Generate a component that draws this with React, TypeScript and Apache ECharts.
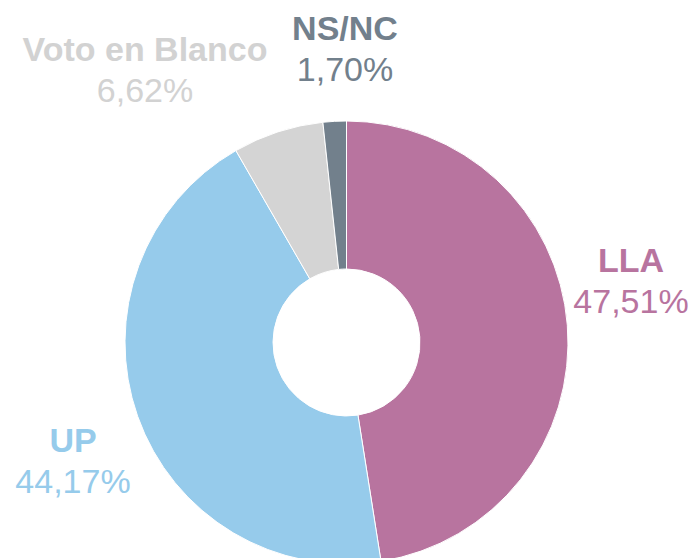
import React, { useEffect, useRef } from "react";
import * as echarts from "echarts";

const categories = ["LLA", "UP", "Voto en Blanco", "NS/NC"];
const values = [47.51, 44.17, 6.62, 1.7];
const colors = ["#b8749f", "#96cbeb", "#d4d4d4", "#72808c"];
const labelColors = ["#b8749f", "#96cbeb", "#d2d2d2", "#72808c"];
const labelPos: [number, number][] = [
  [631, 280],
  [73, 460],
  [145, 69],
  [345, 48],
];

export default function App() {
  const ref = useRef<HTMLDivElement>(null);
  useEffect(() => {
    if (!ref.current) return;
    const chart = echarts.init(ref.current, null, { renderer: "svg" });
    const font = "'Liberation Sans', Arial, sans-serif";
    chart.setOption({
      animation: false,
      backgroundColor: "#ffffff",
      series: [
        {
          type: "pie",
          center: [346.5, 342.5],
          radius: [73.5, 221.5],
          startAngle: 90,
          clockwise: true,
          avoidLabelOverlap: false,
          itemStyle: { borderColor: "#ffffff", borderWidth: 1 },
          labelLine: { show: false },
          label: {
            show: true,
            position: "outside",
            overflow: "none",
            fontFamily: font,
            formatter: (p: any) =>
              `{n|${p.name}}\n{v|${Number(p.value).toFixed(2).replace(".", ",")}%}`,
          },
          labelLayout: (p: any) => ({
            x: labelPos[p.dataIndex][0],
            y: labelPos[p.dataIndex][1],
            align: "center",
            verticalAlign: "middle",
          }),
          data: categories.map((c, i) => ({
            name: c,
            value: values[i],
            itemStyle: { color: colors[i] },
            label: {
              overflow: "none",
              rich: {
                n: {
                  fontSize: 34,
                  fontWeight: "bold",
                  color: labelColors[i],
                  lineHeight: 41,
                  fontFamily: font,
                },
                v: {
                  fontSize: 34,
                  color: labelColors[i],
                  lineHeight: 41,
                  fontFamily: font,
                },
              },
            },
          })),
        },
      ],
    });
    return () => chart.dispose();
  }, []);
  return (
    <div
      ref={ref}
      style={{ position: "fixed", left: 0, top: 0, width: 692, height: 558 }}
    />
  );
}
